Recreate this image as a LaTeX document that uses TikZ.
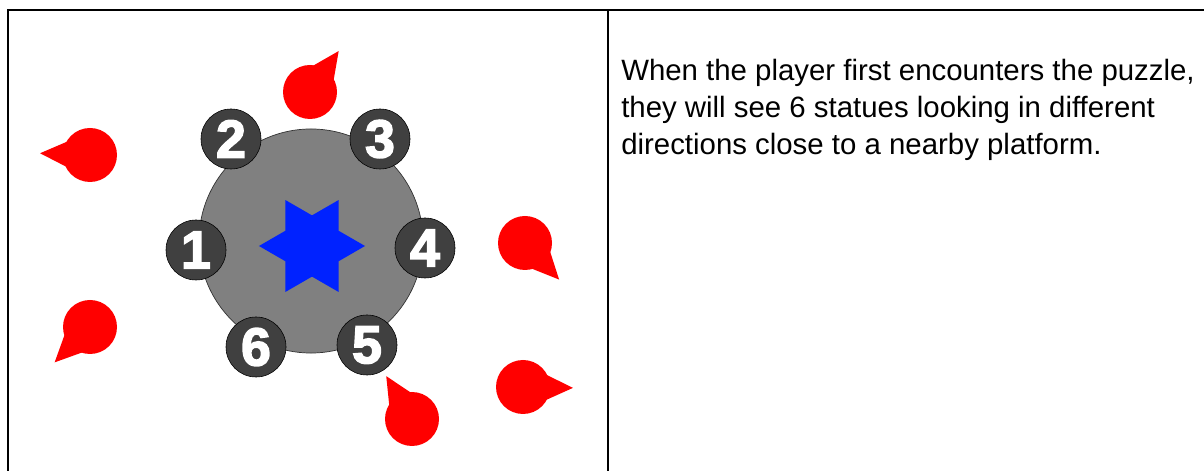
\documentclass[tikz,border=0pt]{standalone}
\usepackage{fontspec}
\setmainfont{Liberation Sans}
\newfontfamily\digitfont[FakeBold=3]{Liberation Sans}
\usepackage{tikz}
\usetikzlibrary{positioning, shapes, calc}

\definecolor{platgray}{HTML}{808080}
\definecolor{discgray}{HTML}{404040}
\definecolor{starblue}{HTML}{0022FF}
\definecolor{statuered}{HTML}{FF0000}

\begin{document}
\begin{tikzpicture}[x=0.025cm, y=-0.025cm,
    frame/.style={line width=1.9pt},
    numdisc/.style={circle, draw=black, line width=0.4pt, fill=discgray, minimum size=1.5cm, inner sep=0pt, text=white, font=\digitfont\bfseries\fontsize{38}{38}\selectfont},
    redstatue/.style={fill=statuered}]
  \useasboundingbox (0,0) rectangle (1204,471);

  % table frame
  \draw[frame] (8,471) -- (8,10) -- (1204,10);
  \draw[frame] (608,10) -- (608,471);

  % platform and star
  \node[circle, fill=platgray, draw=black!80, line width=0.5pt, minimum size=5.6cm, inner sep=0pt] (platform) at (311,241) {};
  \node[star, star points=6, star point ratio=1.732, shape border rotate=30, fill=starblue, minimum size=2.65cm, inner sep=0pt] (star) at (312,246) {};

  % numbered statues
  \node[numdisc] (s1) at (196,250) {1};
  \node[numdisc] (s2) at (231,139) {2};
  \node[numdisc] (s3) at (380,139) {3};
  \node[numdisc] (s4) at (425,248) {4};
  \node[numdisc] (s5) at (367,345) {5};
  \node[numdisc] (s6) at (256,347) {6};

  % red statues
  \coordinate (r1) at (310,92);
  \coordinate (r2) at (90,155);
  \coordinate (r3) at (90,327);
  \coordinate (r4) at (525,243);
  \coordinate (r5) at (523,387);
  \coordinate (r6) at (412,419);

  \fill[redstatue] (r1) circle (27);
  \fill[redstatue] ($(r1)+(-55:50)$) -- ($(r1)+(-5:22)$) -- ($(r1)+(-105:22)$) -- cycle;

  \fill[redstatue] (r2) circle (27);
  \fill[redstatue] ($(r2)+(182:50)$) -- ($(r2)+(232:22)$) -- ($(r2)+(132:22)$) -- cycle;

  \fill[redstatue] (r3) circle (27);
  \fill[redstatue] ($(r3)+(135:50)$) -- ($(r3)+(185:22)$) -- ($(r3)+(85:22)$) -- cycle;

  \fill[redstatue] (r4) circle (27);
  \fill[redstatue] ($(r4)+(47:50)$) -- ($(r4)+(97:22)$) -- ($(r4)+(-3:22)$) -- cycle;

  \fill[redstatue] (r5) circle (27);
  \fill[redstatue] ($(r5)+(1:50)$) -- ($(r5)+(51:22)$) -- ($(r5)+(-49:22)$) -- cycle;

  \fill[redstatue] (r6) circle (27);
  \fill[redstatue] ($(r6)+(239:50)$) -- ($(r6)+(289:22)$) -- ($(r6)+(189:22)$) -- cycle;

  % description
  \node[anchor=north west, inner sep=0pt, align=left, font=\fontsize{20.9}{26.2}\selectfont] (caption) at (621,59) {When the player first encounters the puzzle,\\they will see 6 statues looking in different\\directions close to a nearby platform.};
\end{tikzpicture}
\end{document}
